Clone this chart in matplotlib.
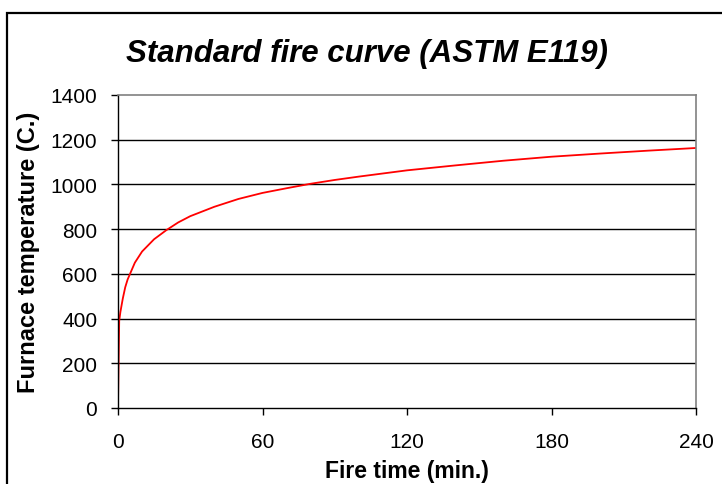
import matplotlib
matplotlib.use("Agg")
import matplotlib.pyplot as plt
from matplotlib.patches import Rectangle

plt.rcParams['font.family'] = ['Liberation Sans', 'DejaVu Sans']

# Fire time (min) and furnace temperature (deg C)
time_min = [0, 0.5, 1, 2, 3, 4, 5, 7, 10, 15, 20, 25, 30, 40, 50, 60, 70, 80,
            90, 100, 120, 140, 160, 180, 200, 220, 240]
temp_c = [20, 390, 430, 490, 540, 575, 600, 650, 700, 755, 795, 830, 858, 900,
          935, 962, 983, 1003, 1020, 1035, 1063, 1085, 1106, 1124, 1138, 1151, 1163]

x_ticks = [0, 60, 120, 180, 240]
y_ticks = [0, 200, 400, 600, 800, 1000, 1200, 1400]

W, H = 722, 485
fig = plt.figure(figsize=(W / 100, H / 100), dpi=100)

# outer chart frame
fig.patches.append(Rectangle((7 / W, -0.1), 1.2, (H - 14) / H + 0.1,
                             transform=fig.transFigure, fill=False,
                             edgecolor='black', linewidth=1.6))

ax = fig.add_axes([118 / W, (H - 409) / H, (696 - 118) / W, (409 - 96) / H])
ax.plot(time_min, temp_c, color='#ff0000', linewidth=1.3)

ax.set_xlim(0, 240)
ax.set_ylim(0, 1400)
ax.set_xticks(x_ticks)
ax.set_yticks(y_ticks)
ax.tick_params(axis='both', direction='out', length=5, width=1, labelsize=15,
               colors='black')
ax.tick_params(axis='x', pad=12)
ax.tick_params(axis='y', pad=10)
for y in y_ticks[1:-1]:
    ax.axhline(y, color='black', linewidth=1.0, zorder=0)

ax.spines['left'].set_color('black')
ax.spines['bottom'].set_color('black')
ax.spines['left'].set_linewidth(1.0)
ax.spines['bottom'].set_linewidth(1.0)
ax.spines['top'].set_color('#808080')
ax.spines['right'].set_color('#808080')
ax.spines['top'].set_linewidth(1.2)
ax.spines['right'].set_linewidth(1.2)

fig.text(367 / W, 1 - 62 / H, 'Standard fire curve (ASTM E119)', ha='center',
         va='baseline', fontsize=22.5, fontweight='bold', fontstyle='italic')
fig.text(407 / W, 1 - 478 / H, 'Fire time (min.)', ha='center', va='baseline',
         fontsize=16.5, fontweight='bold')
fig.text(29 / W, 1 - 252 / H, 'Furnace temperature (C.)', ha='center',
         va='center', rotation=90, fontsize=17, fontweight='bold')

fig.savefig('out.png', dpi=100)
